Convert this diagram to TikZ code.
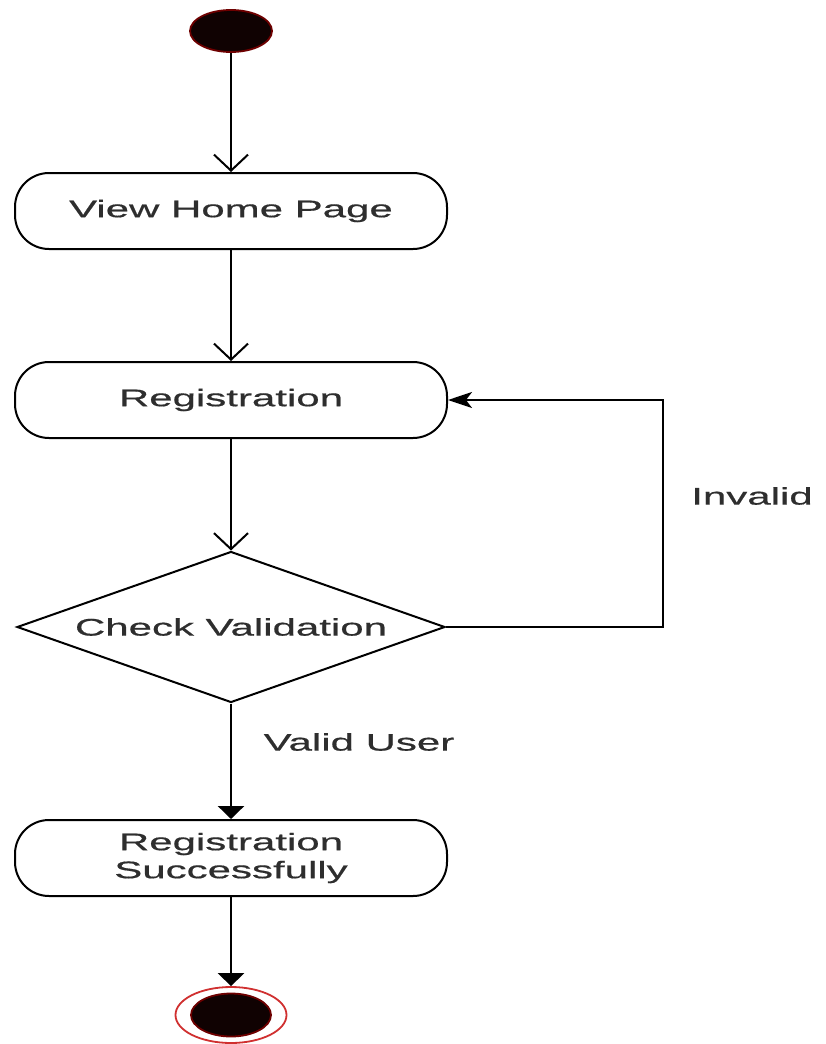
\documentclass[tikz,border=0pt]{standalone}
\usepackage{fontspec}
\setmainfont[FakeStretch=1.75,FakeBold=0.6]{Liberation Sans}
\usetikzlibrary{shapes.geometric,arrows.meta}
\definecolor{txt}{HTML}{2E2E2E}
\definecolor{dred}{HTML}{6E0000}
\definecolor{lred}{HTML}{D03030}
\definecolor{blk}{HTML}{100202}
\tikzset{
  actbox/.style={draw=black, line width=2pt, rectangle, rounded corners=34pt,
    minimum width=432pt, minimum height=76pt, inner sep=0pt, align=center,
    text=txt, font=\fontsize{24}{28}\selectfont},
  decbox/.style={draw=black, line width=2pt, diamond, aspect=2.83,
    minimum width=428pt, minimum height=151pt, inner sep=0pt,
    text=txt, font=\fontsize{24}{28}\selectfont},
  lbl/.style={text=txt, font=\fontsize{24}{28}\selectfont, inner sep=0pt},
  openarr/.style={line width=2pt, -{Straight Barb[length=16pt,width=34pt,line width=2pt]}},
  fillarr/.style={line width=2.8pt, -{Triangle[length=13pt,width=26pt]}},
  loopar/.style={line width=2pt, -{Stealth[length=24pt,width=16pt,inset=6pt]}},
}
\begin{document}
\begin{tikzpicture}[x=1pt,y=-1pt]
\useasboundingbox (0,0) rectangle (825,1044);
% start
\node[ellipse, draw=dred, line width=1.8pt, fill=blk, minimum width=82pt, minimum height=42pt, inner sep=0pt] (start) at (231,31) {};
% activities
\node[actbox] (home) at (231,211) {View Home Page};
\node[actbox] (reg) at (231,400) {Registration};
\node[decbox] (chk) at (231,627) {Check Validation};
\node[actbox] (succ) at (231,858) {Registration\\Successfully};
% end
\node[ellipse, draw=lred, line width=1.8pt, fill=white, minimum width=111pt, minimum height=56pt, inner sep=0pt] (endo) at (231,1015) {};
\node[ellipse, draw=dred, line width=1.8pt, fill=blk, minimum width=80pt, minimum height=43pt, inner sep=0pt] (endi) at (231,1015) {};
% bend coordinates
\coordinate (c1) at (663,627);
\coordinate (c2) at (663,400);
% connectors
\draw[openarr] (start.south) -- (home.north);
\draw[openarr] (home.south) -- (reg.north);
\draw[openarr] (reg.south) -- (chk.north);
\draw[fillarr] (chk.south) -- (succ.north);
\draw[fillarr] (succ.south) -- (endo.north);
\draw[loopar] (chk.east) -- (c1) -- (c2) -- (reg.east);
% labels
\node[lbl] (inv) at (752,496) {Invalid};
\node[lbl] (vu) at (359,742) {Valid User};
\end{tikzpicture}
\end{document}
